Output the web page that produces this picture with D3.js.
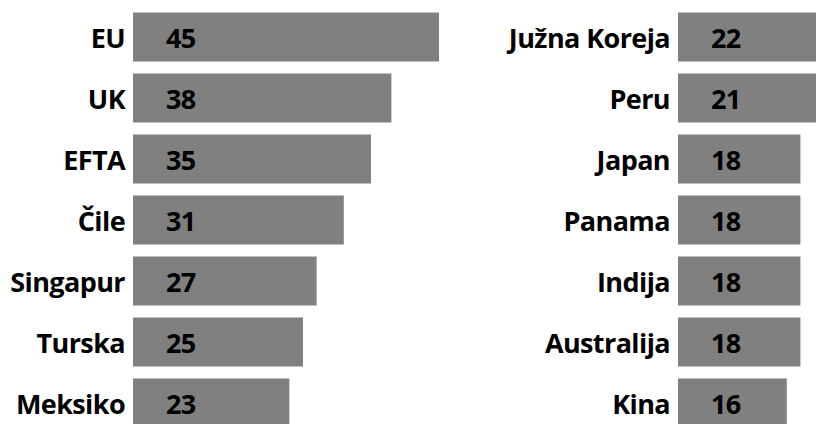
<!DOCTYPE html>
<html>
<head>
<meta charset="utf-8">
<script src="https://cdn.jsdelivr.net/npm/d3@7"></script>
<style>
html,body{margin:0;padding:0;background:#fff;}
svg{display:block;}
</style>
</head>
<body>
<svg id="c" width="816" height="424"></svg>
<script>
const leftCategories = ["EU", "UK", "EFTA", "Čile", "Singapur", "Turska", "Meksiko"];
const leftValues = [45, 38, 35, 31, 27, 25, 23];
const rightCategories = ["Južna Koreja", "Peru", "Japan", "Panama", "Indija", "Australija", "Kina"];
const rightValues = [22, 21, 18, 18, 18, 18, 16];

const svg = d3.select("#c");
const font = "'Open Sans', 'DejaVu Sans', sans-serif";

const pIn = 12/61;
const y = d3.scaleBand().domain(d3.range(7)).range([6.5, 433.5]).paddingInner(pIn).paddingOuter(pIn/2);

function panel(cats, vals, x0) {
  const x = d3.scaleLinear().domain([0, 45]).range([x0, x0 + 306]);
  const g = svg.append("g");
  g.selectAll("rect").data(vals).join("rect")
    .attr("x", x(0))
    .attr("y", (d, i) => y(i))
    .attr("width", d => x(d) - x(0))
    .attr("height", y.bandwidth())
    .attr("fill", "#808080");
  g.selectAll("text.v").data(vals).join("text")
    .attr("class", "v")
    .attr("x", x(0) + 33)
    .attr("y", (d, i) => y(i) + y.bandwidth() / 2)
    .attr("dy", "0.39em")
    .attr("font-family", font)
    .attr("font-weight", 700)
    .attr("font-size", 27)
    .attr("letter-spacing", "-0.6px")
    .attr("fill", "#000")
    .text(d => d);
  g.selectAll("text.c").data(cats).join("text")
    .attr("class", "c")
    .attr("x", x(0) - 8)
    .attr("y", (d, i) => y(i) + y.bandwidth() / 2)
    .attr("dy", "0.39em")
    .attr("text-anchor", "end")
    .attr("font-family", font)
    .attr("font-weight", 700)
    .attr("font-size", 27)
    .attr("letter-spacing", "-0.6px")
    .attr("fill", "#000")
    .text(d => d);
}
panel(leftCategories, leftValues, 133);
panel(rightCategories, rightValues, 678);
</script>
</body>
</html>
